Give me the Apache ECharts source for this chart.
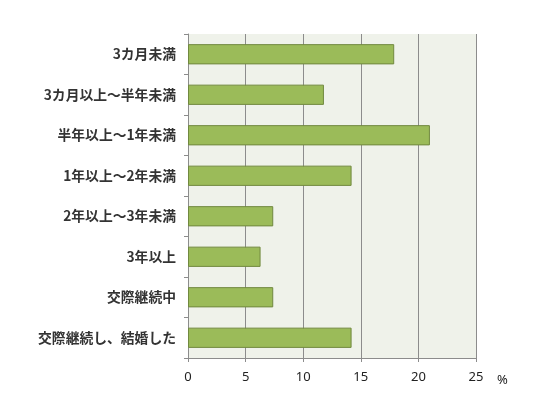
<!DOCTYPE html>
<html><head><meta charset="utf-8">
<script src="https://cdn.jsdelivr.net/npm/echarts@6/dist/echarts.min.js"></script>
<style>html,body{margin:0;padding:0;background:#fff}#c{width:533px;height:400px}</style>
</head><body><div id="c"></div>
<script>
const categories = ['3カ月未満','3カ月以上～半年未満','半年以上～1年未満','1年以上～2年未満','2年以上～3年未満','3年以上','交際継続中','交際継続し、結婚した'];
const values = [17.9, 11.8, 21.0, 14.2, 7.4, 6.3, 7.4, 14.2];
const xTicks = [0, 5, 10, 15, 20, 25];

const chart = echarts.init(document.getElementById('c'));
chart.setOption({
  animation: false,
  grid: { left: 188, right: 57, top: 34, bottom: 42, show: true, backgroundColor: '#eff2ea', borderWidth: 0 },
  xAxis: {
    type: 'value', min: xTicks[0], max: xTicks[xTicks.length - 1], interval: 5,
    name: '%', nameLocation: 'end', nameGap: 21,
    nameTextStyle: { fontFamily: 'Noto Sans', fontSize: 13, color: '#222', verticalAlign: 'top', padding: [16, 0, 0, 0] },
    axisLine: { show: true, lineStyle: { color: '#8c8c8c' } },
    axisTick: { show: true, length: 4, lineStyle: { color: '#8c8c8c' } },
    axisLabel: { fontFamily: 'Noto Sans', fontSize: 13, color: '#222', margin: 13 },
    splitLine: { show: true, lineStyle: { color: '#8c8c8c', width: 1 } }
  },
  yAxis: {
    type: 'category', data: categories, inverse: true,
    axisLine: { show: true, lineStyle: { color: '#8c8c8c' } },
    axisTick: { show: true, length: 4, inside: false, lineStyle: { color: '#8c8c8c' } },
    axisLabel: { fontFamily: 'Noto Sans CJK JP', fontWeight: 'bold', fontSize: 13.8, color: '#333', margin: 12 },
    splitLine: { show: false }
  },
  series: [{
    type: 'bar', data: values, barCategoryGap: '50%',
    itemStyle: { color: '#9bbb59', borderColor: '#71893f', borderWidth: 1 }
  }]
});
</script></body></html>
